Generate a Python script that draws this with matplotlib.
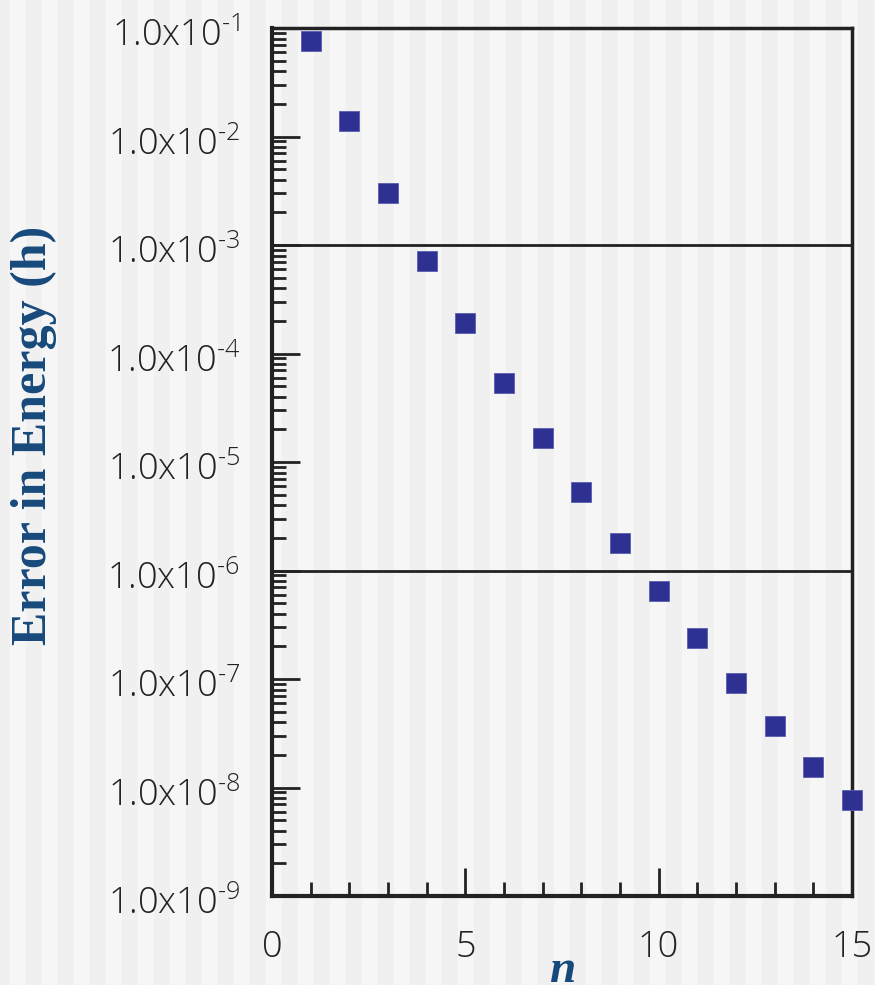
import numpy as np
import matplotlib.pyplot as plt
from matplotlib.colors import ListedColormap
from matplotlib.transforms import ScaledTranslation
from matplotlib.ticker import FixedLocator, FuncFormatter, NullFormatter

# Datos
n = [1, 2, 3, 4, 5, 6, 7, 8, 9, 10, 11, 12, 13, 14, 15]
error = [7.6e-2, 1.39e-2, 3.0e-3, 7.1e-4, 1.9e-4, 5.3e-5, 1.65e-5, 5.3e-6,
         1.8e-6, 6.5e-7, 2.4e-7, 9.2e-8, 3.7e-8, 1.55e-8, 7.7e-9]
ref_lines = [1e-3, 1e-6]
decades = list(range(-9, 0))
xticks_major = [0, 5, 10, 15]

blue = '#2e3192'
label_blue = '#174a7c'
tick_font = 'Open Sans'

plt.rcParams['mathtext.fontset'] = 'custom'
plt.rcParams['mathtext.rm'] = tick_font + ':light'

W, H = 875, 985
fig = plt.figure(figsize=(W / 100, H / 100), dpi=100)

# fondo a rayas verticales
bg = fig.add_axes([0, 0, 1, 1], zorder=-10)
stripes = (np.arange(W) + 6) // 16 % 2
bg.imshow(stripes[None, :], aspect='auto',
          cmap=ListedColormap(['#f0f0f0', '#f6f6f6']),
          extent=[0, 1, 0, 1], interpolation='nearest')
bg.axis('off')

ax = fig.add_axes([272 / W, 1 - 896 / H, 580 / W, 868 / H])
ax.patch.set_alpha(0)
ax.set_yscale('log')
ax.set_xlim(0, 15)
ax.set_ylim(1e-9, 1e-1)

for y in ref_lines:
    ax.axhline(y, color='#222222', lw=2, zorder=1)

ax.plot(n, error, 's', color=blue, ms=15, mec='#5a5db0', mew=0.6,
        clip_on=False, zorder=3)

# ejes
for side in ['left', 'bottom']:
    ax.spines[side].set_linewidth(3)
for side in ['top', 'right']:
    ax.spines[side].set_linewidth(2.5)
for s in ax.spines.values():
    s.set_color('#222222')

ax.xaxis.set_major_locator(FixedLocator(xticks_major))
ax.xaxis.set_minor_locator(FixedLocator(range(16)))
ax.yaxis.set_major_locator(FixedLocator([10.0 ** d for d in decades]))
minor_y = [m * 10.0 ** d for d in decades[:-1] for m in range(2, 10)]
ax.yaxis.set_minor_locator(FixedLocator(minor_y))
ax.yaxis.set_minor_formatter(NullFormatter())


def fmt(v, pos):
    e = int(round(np.log10(v)))
    return r'1.0x10$^{\text{-%d}}$' % (-e)


ax.yaxis.set_major_formatter(FuncFormatter(fmt))
ax.tick_params(which='both', direction='in', color='#222222', width=2,
               top=False, right=False)
ax.tick_params(which='major', length=20)
ax.tick_params(which='minor', length=10)
ax.tick_params(axis='y', which='major', pad=23, labelsize=26)
ax.tick_params(axis='x', which='major', pad=24, labelsize=26)
shift = ScaledTranslation(0, -4 / 100, fig.dpi_scale_trans)
for lab in ax.get_yticklabels():
    lab.set_transform(lab.get_transform() + shift)
for lab in ax.get_xticklabels() + ax.get_yticklabels():
    lab.set_fontfamily(tick_font)
    lab.set_fontweight('light')
    lab.set_color('#222222')

ax.set_ylabel('Error in Energy (h)', fontfamily='Liberation Serif',
              fontweight='bold', fontsize=36, color=label_blue)
ax.yaxis.set_label_coords(-0.370, 0.531)
ax.set_xlabel('n', fontfamily='Liberation Serif', fontweight='bold',
              fontstyle='italic', fontsize=34, color=label_blue, labelpad=-12)

fig.savefig('out.png', dpi=100)
